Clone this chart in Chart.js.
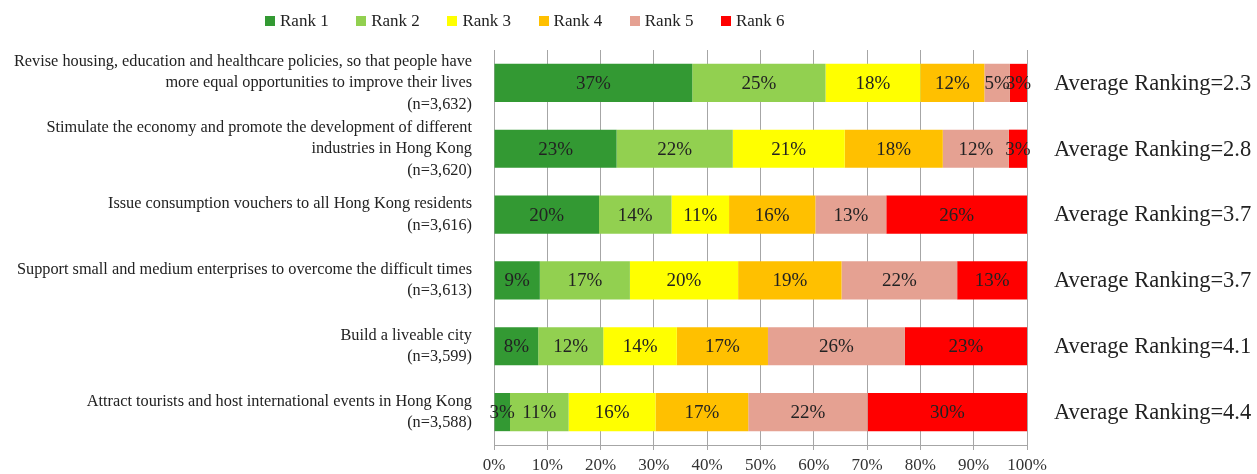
<!DOCTYPE html>
<html>
<head>
<meta charset="utf-8">
<script src="https://cdn.jsdelivr.net/npm/chart.js@4.4.0/dist/chart.umd.min.js"></script>
<style>
  html, body { margin: 0; padding: 0; background: #fff; }
  #wrap { position: relative; width: 1257px; height: 474px; }
  #leyenda { position: absolute; left: 265px; top: 11px; display: flex; font-family: "Liberation Serif", serif; font-size: 17px; color: #222; }
  #leyenda .item { width: 91.2px; display: flex; align-items: center; }
  #leyenda .caja { width: 10px; height: 10px; margin-right: 5px; }
</style>
</head>
<body>
<div id="wrap">
  <canvas id="grafica" width="1257" height="474"></canvas>
  <div id="leyenda"></div>
</div>
<script>
// categorias (eje y)
var categorias = [
  ["Revise housing, education and healthcare policies, so that people have", "more equal opportunities to improve their lives", "(n=3,632)"],
  ["Stimulate the economy and promote the development of different", "industries in Hong Kong", "(n=3,620)"],
  ["Issue consumption vouchers to all Hong Kong residents", "(n=3,616)"],
  ["Support small and medium enterprises to overcome the difficult times", "(n=3,613)"],
  ["Build a liveable city", "(n=3,599)"],
  ["Attract tourists and host international events in Hong Kong", "(n=3,588)"]
];

var series = ["Rank 1", "Rank 2", "Rank 3", "Rank 4", "Rank 5", "Rank 6"];
var colores = ["#339933", "#92D050", "#FFFF00", "#FFC000", "#E5A192", "#FF0000"];

// porcentaje por rango, una fila por categoria
var rank1 = [37.2, 23.0, 19.7, 8.6, 8.3, 3.0];
var rank2 = [25.0, 21.8, 13.6, 16.9, 12.2, 11.0];
var rank3 = [17.8, 21.0, 10.8, 20.3, 13.8, 16.3];
var rank4 = [12.0, 18.4, 16.2, 19.4, 17.1, 17.4];
var rank5 = [4.8, 12.4, 13.3, 21.7, 25.7, 22.4];
var rank6 = [3.2, 3.4, 26.4, 13.1, 22.9, 29.9];

var promedio = ["2.3", "2.8", "3.7", "3.7", "4.1", "4.4"];
var ticksX = [0, 10, 20, 30, 40, 50, 60, 70, 80, 90, 100];

var valores = [rank1, rank2, rank3, rank4, rank5, rank6];

// leyenda en html
var leyenda = document.getElementById('leyenda');
series.forEach(function(nombre, i) {
  leyenda.innerHTML += '<div class="item"><span class="caja" style="background:' + colores[i] + '"></span>' + nombre + '</div>';
});

// etiquetas de porcentaje dentro de las barras y el promedio a la derecha
var etiquetas = {
  id: 'etiquetas',
  afterDatasetsDraw: function(chart) {
    var ctx = chart.ctx;
    ctx.save();
    ctx.textAlign = 'center';
    ctx.textBaseline = 'middle';
    ctx.font = '19px "Liberation Serif", serif';
    ctx.fillStyle = '#222';
    chart.data.datasets.forEach(function(ds, i) {
      var meta = chart.getDatasetMeta(i);
      meta.data.forEach(function(bar, j) {
        var cx = (bar.x + bar.base) / 2;
        ctx.fillText(Math.round(ds.data[j]) + '%', cx, bar.y + 1);
      });
    });
    ctx.textAlign = 'left';
    ctx.font = '22.5px "Liberation Serif", serif';
    var meta0 = chart.getDatasetMeta(0);
    meta0.data.forEach(function(bar, j) {
      ctx.fillText('Average Ranking=' + promedio[j], chart.chartArea.right + 27, bar.y + 1);
    });
    ctx.restore();
  }
};

var ctx = document.getElementById('grafica').getContext('2d');

var miGrafico = new Chart(ctx, {
  type: 'bar',
  data: {
    labels: categorias,
    datasets: series.map(function(nombre, i) {
      return {
        label: nombre,
        data: valores[i],
        backgroundColor: colores[i],
        borderWidth: 0,
        categoryPercentage: 0.58,
        barPercentage: 1
      };
    })
  },
  options: {
    indexAxis: 'y',
    responsive: false,
    animation: false,
    layout: { padding: { top: 50, right: 230, left: 0, bottom: 0 } },
    plugins: {
      legend: { display: false },
      tooltip: { enabled: false }
    },
    scales: {
      x: {
        stacked: true,
        min: 0,
        max: 100,
        afterBuildTicks: function(s) { s.ticks = ticksX.map(function(v) { return { value: v }; }); },
        afterFit: function(s) { s.height = 29; s.paddingLeft = 0; s.paddingRight = 0; },
        ticks: {
          callback: function(v) { return v + '%'; },
          color: '#333',
          font: { family: '"Liberation Serif", serif', size: 17 },
          padding: 5,
          maxRotation: 0
        },
        grid: { color: '#a6a6a6', lineWidth: 1, tickLength: 5 },
        border: { color: '#a6a6a6' }
      },
      y: {
        stacked: true,
        afterFit: function(s) { s.width = 494; s.paddingTop = 0; s.paddingBottom = 0; },
        ticks: {
          autoSkip: false,
          color: '#222',
          font: { family: '"Liberation Serif", serif', size: 16.3, lineHeight: 1.32 },
          padding: 14
        },
        grid: { display: false },
        border: { display: true, color: '#a6a6a6' }
      }
    }
  },
  plugins: [etiquetas]
});
</script>
</body>
</html>
